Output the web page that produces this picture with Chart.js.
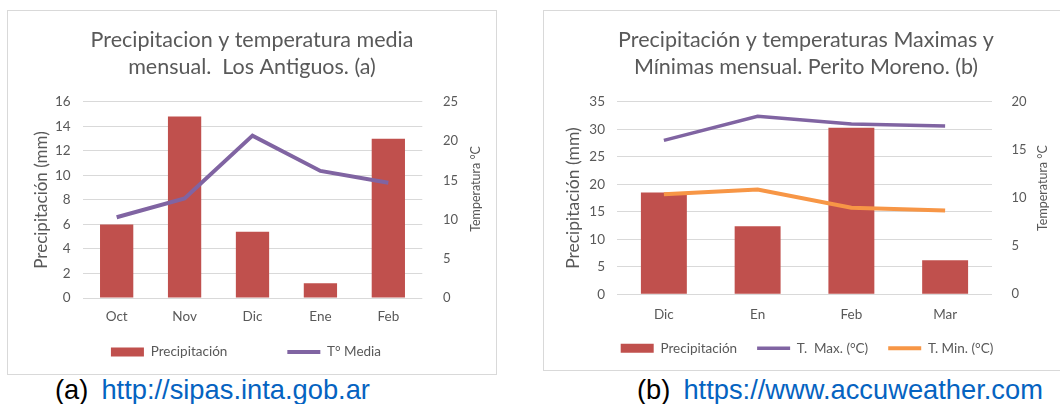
<!DOCTYPE html>
<html>
<head>
<meta charset="utf-8">
<script src="https://cdn.jsdelivr.net/npm/chart.js@4.4.1/dist/chart.umd.min.js"></script>
<style>
  html, body { margin: 0; padding: 0; background: #fff; }
  body { width: 1060px; height: 404px; overflow: hidden; position: relative; }
  .box { position: absolute; border: 1px solid #d9d9d9; background: #fff; }
  .box canvas { display: block; }
  .cap { position: absolute; top: 375px; font-family: "Liberation Sans", Arial, sans-serif;
         font-size: 27.3px; line-height: 30px; white-space: nowrap; color: #000; }
  .cap .url { color: #0563c1; margin-left: 13px; }
</style>
</head>
<body>
<div class="box" style="left:7px; top:10px; width:488px; height:363px;">
  <canvas id="graficoA" width="488" height="363"></canvas>
</div>
<div class="box" style="left:543px; top:10px; width:524px; height:359px;">
  <canvas id="graficoB" width="524" height="359"></canvas>
</div>
<div class="cap" style="left:55px;">(a)<span class="url">http://sipas.inta.gob.ar</span></div>
<div class="cap" style="left:637px;">(b)<span class="url">https://www.accuweather.com</span></div>

<script>
// (a) Los Antiguos
const mesesA = ['Oct', 'Nov', 'Dic', 'Ene', 'Feb'];
const precipA = [6.0, 14.8, 5.4, 1.2, 13.0];
const tMediaA = [10.3, 12.7, 20.7, 16.2, 14.7];

// (b) Perito Moreno
const mesesB = ['Dic', 'En', 'Feb', 'Mar'];
const precipB = [18.5, 12.4, 30.3, 6.2];
const tMaxB = [16.0, 18.5, 17.7, 17.5];
const tMinB = [10.4, 10.9, 9.0, 8.7];

const GRIS = '#595959';
const ROJO = '#c0504d';
const VIOLETA = '#8064a2';
const NARANJA = '#f79646';
const FUENTE = 'Lato';

// titulo del eje derecho, leido de abajo hacia arriba como en Excel
const tituloDerecho = {
  id: 'tituloDerecho',
  afterDraw(chart, args, opts) {
    const s = chart.scales.y1;
    const area = chart.chartArea;
    const ctx = chart.ctx;
    ctx.save();
    ctx.font = `${opts.size}px ${FUENTE}`;
    ctx.fillStyle = GRIS;
    ctx.textAlign = 'center';
    ctx.textBaseline = 'middle';
    ctx.translate(s.right - opts.offset, (area.top + area.bottom) / 2 + opts.shiftY);
    ctx.rotate(-Math.PI / 2);
    ctx.fillText(opts.text, 0, 0);
    ctx.restore();
  }
};

// la leyenda de (a) tiene mucho espacio entre items; se sube para que quede en su lugar
const moverLeyenda = {
  id: 'moverLeyenda',
  afterLayout(chart, args, opts) {
    const lg = chart.legend;
    if (opts.top !== undefined) {
      lg.top = opts.top;
      lg.bottom = chart.height;
      lg.height = lg.bottom - lg.top;
    }
    if (opts.dx) {
      lg.left += opts.dx;
      lg.right += opts.dx;
    }
  }
};

function etiquetas(chart) {
  return Chart.defaults.plugins.legend.labels.generateLabels(chart).map(item => {
    item.pointStyle = chart.data.datasets[item.datasetIndex].type === 'line' ? 'line' : 'rect';
    return item;
  });
}

function opciones(cfg) {
  return {
    responsive: false,
    animation: false,
    layout: { padding: { left: 0, right: 0, top: 0, bottom: cfg.padBottom } },
    plugins: {
      tooltip: { enabled: false },
      title: {
        display: true,
        text: cfg.titulo,
        color: GRIS,
        font: { family: FUENTE, size: 21.5, weight: 'normal', lineHeight: 1.27 },
        padding: { top: 15.5, bottom: 20.8 }
      },
      legend: {
        position: 'bottom',
        maxHeight: cfg.legendMaxH,
        labels: {
          usePointStyle: true,
          pointStyleWidth: 33,
          boxHeight: 9,
          padding: cfg.legendPad,
          color: GRIS,
          font: { family: FUENTE, size: 13.5 },
          sort: (a, b) => a.datasetIndex - b.datasetIndex,
          generateLabels: etiquetas
        }
      },
      moverLeyenda: { top: cfg.legendTop, dx: cfg.legendDx },
      tituloDerecho: cfg.derecho
    },
    scales: {
      x: {
        grid: { display: false, drawTicks: false },
        border: { display: false },
        ticks: { color: GRIS, font: { family: FUENTE, size: 13.5 }, padding: cfg.xPad, maxRotation: 0, autoSkip: false },
        afterFit: s => { s.height = cfg.xHeight; }
      },
      y: {
        position: 'left',
        min: 0, max: cfg.yMax,
        ticks: { stepSize: cfg.yStep, color: GRIS, font: { family: FUENTE, size: 13.5 }, padding: 12 },
        grid: { color: '#d9d9d9', drawTicks: false },
        border: { display: false },
        title: {
          display: true,
          text: 'Precipitación (mm)',
          color: GRIS,
          font: { family: FUENTE, size: cfg.yTitleSize },
          padding: { top: cfg.yTitlePad, bottom: 0 }
        },
        afterFit: s => { s.width = cfg.yWidth; }
      },
      y1: {
        position: 'right',
        min: 0, max: cfg.y1Max,
        ticks: { stepSize: 5, color: GRIS, font: { family: FUENTE, size: 13 }, padding: cfg.y1Pad },
        grid: { display: false, drawTicks: false },
        border: { display: false },
        afterFit: s => { s.width = cfg.y1Width; }
      }
    }
  };
}

function dibujar() {
  new Chart(document.getElementById('graficoA'), {
    type: 'bar',
    data: {
      labels: mesesA,
      datasets: [
        { type: 'bar', label: 'Precipitación', data: precipA, backgroundColor: ROJO, borderWidth: 0,
          categoryPercentage: 1, barPercentage: 0.49, yAxisID: 'y', order: 1 },
        { type: 'line', label: 'T° Media', data: tMediaA, borderColor: VIOLETA, backgroundColor: VIOLETA,
          borderWidth: 4, pointRadius: 0, tension: 0, yAxisID: 'y1', order: 0 }
      ]
    },
    options: opciones({
      titulo: ['Precipitacion y temperatura media', 'mensual.  Los Antiguos. (a)'],
      padBottom: 6, legendPad: 60, legendMaxH: 40, legendTop: 274.25, legendDx: -6, xPad: 10.5, xHeight: 30,
      yMax: 16, yStep: 2, yWidth: 74.7, yTitleSize: 17, yTitlePad: 23,
      y1Max: 25, y1Width: 73.7, y1Pad: 20.7,
      derecho: { text: 'Temperatura °C', size: 12.5, offset: 20.5, shiftY: -11 }
    }),
    plugins: [tituloDerecho, moverLeyenda]
  });

  new Chart(document.getElementById('graficoB'), {
    type: 'bar',
    data: {
      labels: mesesB,
      datasets: [
        { type: 'bar', label: 'Precipitación', data: precipB, backgroundColor: ROJO, borderWidth: 0,
          categoryPercentage: 1, barPercentage: 0.49, yAxisID: 'y', order: 2 },
        { type: 'line', label: 'T.  Max. (°C)', data: tMaxB, borderColor: VIOLETA, backgroundColor: VIOLETA,
          borderWidth: 3.5, pointRadius: 0, tension: 0, yAxisID: 'y1', order: 1 },
        { type: 'line', label: 'T. Min. (°C)', data: tMinB, borderColor: NARANJA, backgroundColor: NARANJA,
          borderWidth: 4, pointRadius: 0, tension: 0, yAxisID: 'y1', order: 0 }
      ]
    },
    options: opciones({
      titulo: ['Precipitación y temperaturas Maximas y', 'Mínimas mensual. Perito Moreno. (b)'],
      padBottom: 4.95, legendPad: 20, legendMaxH: undefined, legendTop: undefined, legendDx: 1, xPad: 11.9, xHeight: 27.25,
      yMax: 35, yStep: 5, yWidth: 73, yTitleSize: 17.5, yTitlePad: 18.5,
      y1Max: 20, y1Width: 76, y1Pad: 19.5,
      derecho: { text: 'Temperatura °C', size: 12.5, offset: 25.5, shiftY: -10 }
    }),
    plugins: [tituloDerecho, moverLeyenda]
  });
}

document.fonts.load('16px Lato').then(dibujar, dibujar);
</script>
</body>
</html>
